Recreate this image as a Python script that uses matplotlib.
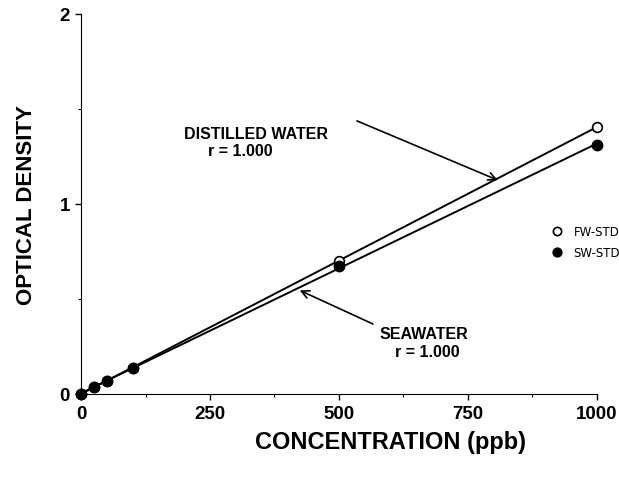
import numpy as np
import matplotlib
matplotlib.use("Agg")
import matplotlib.pyplot as plt
from matplotlib.ticker import MultipleLocator

plt.rcParams['font.family'] = ['Liberation Sans', 'DejaVu Sans']

# 标准曲线数据 (浓度 ppb, 光密度)
conc = [0, 25, 50, 100, 500, 1000]
od_fw = [0.0, 0.036, 0.070, 0.138, 0.700, 1.405]   # 蒸馏水标准
od_sw = [0.0, 0.035, 0.068, 0.136, 0.675, 1.310]   # 海水标准

x_ticks = [0, 250, 500, 750, 1000]
y_ticks = [0, 1, 2]

fig = plt.figure(figsize=(6.19, 4.81), dpi=100)
ax = fig.add_axes([0.131, 0.179, 0.833, 0.790])

# 线性拟合
x_fit = np.array([conc[0], conc[-1]])
for od in (od_fw, od_sw):
    k, b = np.polyfit(conc, od, 1)
    ax.plot(x_fit, k * x_fit + b, color='black', lw=1.4, zorder=2)

ax.plot(conc, od_fw, 'o', ms=7, mfc='white', mec='black', mew=1.2,
        label='FW-STD', clip_on=False, zorder=3)
ax.plot(conc, od_sw, 'o', ms=7.5, mfc='black', mec='black',
        label='SW-STD', clip_on=False, zorder=4)

ax.set_xlim(0, 1000)
ax.set_ylim(0, 2)
ax.set_xticks(x_ticks)
ax.set_yticks(y_ticks)
ax.xaxis.set_minor_locator(MultipleLocator(125))
ax.yaxis.set_minor_locator(MultipleLocator(0.5))
ax.spines['top'].set_visible(False)
ax.spines['right'].set_visible(False)
ax.tick_params(which='major', length=4, width=1, labelsize=13.5, pad=4)
ax.tick_params(which='minor', length=2.5, width=0.8)
for lab in ax.get_xticklabels() + ax.get_yticklabels():
    lab.set_fontweight('bold')

ax.set_xlabel('CONCENTRATION (ppb)', fontsize=17, fontweight='bold', labelpad=4)
ax.xaxis.set_label_coords(0.60, -0.095)
ax.set_ylabel('OPTICAL DENSITY', fontsize=16, fontweight='bold', labelpad=16)

# 标注
ax.text(339, 1.368, 'DISTILLED WATER', ha='center', va='center',
        fontsize=11.5, fontweight='bold')
ax.text(308, 1.279, 'r = 1.000', ha='center', va='center',
        fontsize=11.5, fontweight='bold')
ax.annotate('', xy=(808, 1.125), xytext=(535, 1.437),
            arrowprops=dict(arrowstyle='->', lw=1.2, color='black',
                            mutation_scale=14, shrinkA=0, shrinkB=0))

ax.text(665, 0.316, 'SEAWATER', ha='center', va='center',
        fontsize=11.5, fontweight='bold')
ax.text(672, 0.221, 'r = 1.000', ha='center', va='center',
        fontsize=11.5, fontweight='bold')
ax.annotate('', xy=(424, 0.545), xytext=(566, 0.368),
            arrowprops=dict(arrowstyle='->', lw=1.2, color='black',
                            mutation_scale=14, shrinkA=0, shrinkB=0))

ax.legend(loc='center left', bbox_to_anchor=(0.900, 0.40), frameon=False,
          prop={'family': 'DejaVu Sans', 'size': 8.5}, borderpad=0,
          handlelength=1, handletextpad=0.9, labelspacing=0.7, markerscale=0.85)

fig.savefig('out.png', dpi=100)
